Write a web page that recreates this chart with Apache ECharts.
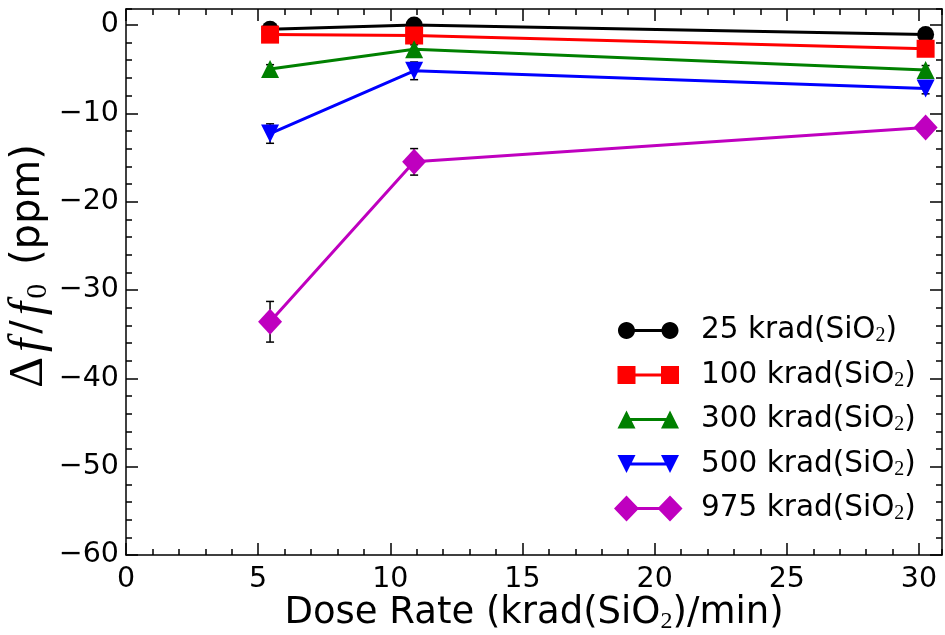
<!DOCTYPE html>
<html>
<head>
<meta charset="utf-8">
<script src="https://cdn.jsdelivr.net/npm/echarts@6/dist/echarts.min.js"></script>
<style>
  html, body { margin: 0; padding: 0; background: #ffffff; }
  #chart { width: 945px; height: 635px; }
</style>
</head>
<body>
<div id="chart"></div>
<script>
// Dose rates (krad(SiO2)/min) at which the resonators were irradiated
const doseRate = [5.45, 10.9, 30.25];

// Total dose levels, one curve each
const doseLevels = ['25', '100', '300', '500', '975'];

// Relative frequency shift Δf/f0 (ppm) per total dose
const shift25  = [-0.5, 0.0, -1.1];
const shift100 = [-1.1, -1.2, -2.7];
const shift300 = [-5.0, -2.75, -5.1];
const shift500 = [-12.3, -5.2, -7.2];
const shift975 = [-33.6, -15.5, -11.6];

// Half-width of the error bars (ppm)
const err25  = [0.3, 0.3, 0.3];
const err100 = [0.3, 0.3, 0.3];
const err300 = [0.5, 0.5, 0.5];
const err500 = [1.1, 1.0, 0.6];
const err975 = [2.3, 1.5, 0.6];

// Labelled ticks
const xTickValues = [0, 5, 10, 15, 20, 25, 30];
const yTickValues = [-60, -50, -40, -30, -20, -10, 0];

const shifts = [shift25, shift100, shift300, shift500, shift975];
const errs = [err25, err100, err300, err500, err975];
const colors = ['#000000', '#ff0000', '#008000', '#0000ff', '#bf00bf'];
const symbols = ['circle', 'rect', 'triangle', 'triangle', 'diamond'];
const symbolSizes = [17, 18, 18, 18, [24, 26]];
const symbolRotates = [0, 0, 0, 180, 0];

const X_MIN = 0, X_MAX = 30.87, Y_MIN = -60, Y_MAX = 1.8;
const FONT = 'DejaVu Sans';
const MATH = 'Liberation Serif';

// Legend glyphs: two markers joined by a short line segment
function circ(cx, cy, r) {
  const k = r * 0.5523;
  return `M${cx - r},${cy} C${cx - r},${cy - k} ${cx - k},${cy - r} ${cx},${cy - r} ` +
         `C${cx + k},${cy - r} ${cx + r},${cy - k} ${cx + r},${cy} ` +
         `C${cx + r},${cy + k} ${cx + k},${cy + r} ${cx},${cy + r} ` +
         `C${cx - k},${cy + r} ${cx - r},${cy + k} ${cx - r},${cy} Z `;
}
function sq(cx, cy, h) {
  return `M${cx - h},${cy - h} L${cx + h},${cy - h} L${cx + h},${cy + h} L${cx - h},${cy + h} Z `;
}
function triUp(cx, cy, h) {
  return `M${cx},${cy - h} L${cx + h},${cy + h} L${cx - h},${cy + h} Z `;
}
function triDown(cx, cy, h) {
  return `M${cx - h},${cy - h} L${cx + h},${cy - h} L${cx},${cy + h} Z `;
}
function dia(cx, cy, w, h) {
  return `M${cx},${cy - h} L${cx + w},${cy} L${cx},${cy + h} L${cx - w},${cy} Z `;
}
const IW = 82, IH = 26, L = 12.5, R = 56, C = 13;
const bar = `M${L},${C - 1.5} L${R},${C - 1.5} L${R},${C + 1.5} L${L},${C + 1.5} Z `;
const frameBox = `M0,0 M${IW},${IH}`;
const legendIcons = [
  circ(L, C, 8.5) + circ(R, C, 8.5),
  sq(L, C, 9) + sq(R, C, 9),
  triUp(L, C, 9) + triUp(R, C, 9),
  triDown(L, C, 9) + triDown(R, C, 9),
  dia(L, C, 12.5, 13) + dia(R, C, 12.5, 13)
].map(p => 'path://' + frameBox + ' ' + bar + p);

const seriesNames = doseLevels.map(d => d + ' krad(SiO2)');

const lineSeries = doseLevels.map((d, i) => ({
  type: 'line',
  name: seriesNames[i],
  data: doseRate.map((x, j) => [x, shifts[i][j]]),
  symbol: symbols[i],
  symbolSize: symbolSizes[i],
  symbolRotate: symbolRotates[i],
  showSymbol: true,
  lineStyle: { width: 3, color: colors[i] },
  itemStyle: { color: colors[i], borderWidth: 0 },
  emphasis: { disabled: true },
  z: 3,
  animation: false
}));

const errorSeries = {
  type: 'custom',
  name: 'error',
  silent: true,
  z: 1,
  animation: false,
  data: shifts.flatMap((s, i) => doseRate.map((x, j) => [x, s[j], errs[i][j]])),
  renderItem: function (params, api) {
    const x = api.value(0), y = api.value(1), e = api.value(2);
    const top = api.coord([x, y + e]);
    const bot = api.coord([x, y - e]);
    const cap = 4;
    const st = { stroke: '#000000', lineWidth: 1.5 };
    return {
      type: 'group',
      children: [
        { type: 'line', shape: { x1: top[0], y1: top[1], x2: bot[0], y2: bot[1] }, style: st },
        { type: 'line', shape: { x1: top[0] - cap, y1: top[1], x2: top[0] + cap, y2: top[1] }, style: st },
        { type: 'line', shape: { x1: bot[0] - cap, y1: bot[1], x2: bot[0] + cap, y2: bot[1] }, style: st }
      ]
    };
  }
};

const axisLineStyle = { color: '#000000', width: 1.5 };
const tickLabelStyle = {
  fontFamily: FONT, fontSize: 28.5, color: '#000000',
  formatter: v => (v < 0 ? '\u2212' + Math.abs(v) : String(v))
};

function majorAxis(pos, min, max, ticks, withLabels, margin) {
  return {
    type: 'value', position: pos, min: min, max: max,
    axisLine: { show: true, onZero: false, lineStyle: axisLineStyle },
    axisTick: { show: true, inside: true, length: 12, lineStyle: axisLineStyle, customValues: ticks },
    axisLabel: withLabels
      ? Object.assign({ show: true, margin: margin, customValues: ticks }, tickLabelStyle)
      : { show: false },
    splitLine: { show: false }
  };
}
function minorAxis(pos, min, max, step) {
  return {
    type: 'value', position: pos, min: min, max: max, interval: step,
    axisLine: { show: false, onZero: false },
    axisTick: { show: true, inside: true, length: 6, lineStyle: axisLineStyle },
    axisLabel: { show: false },
    splitLine: { show: false }
  };
}

const xMain = majorAxis('bottom', X_MIN, X_MAX, xTickValues, true, 10);
xMain.name = 'Dose Rate (krad(SiO{s|2})/min)';
xMain.nameLocation = 'middle';
xMain.nameGap = 37;
xMain.nameMoveOverlap = false;
xMain.nameTextStyle = {
  fontFamily: FONT, fontSize: 37, color: '#000000', lineHeight: 42,
  rich: { s: { fontFamily: MATH, fontSize: 24, lineHeight: 27, verticalAlign: 'bottom', color: '#000000' } }
};

const option = {
  backgroundColor: '#ffffff',
  animation: false,
  textStyle: { fontFamily: FONT },
  grid: { left: 126, right: 3, top: 9, bottom: 80, containLabel: false, outerBoundsMode: 'none' },
  xAxis: [
    xMain,
    majorAxis('top', X_MIN, X_MAX, xTickValues, false),
    minorAxis('bottom', X_MIN, X_MAX, 1),
    minorAxis('top', X_MIN, X_MAX, 1)
  ],
  yAxis: [
    majorAxis('left', Y_MIN, Y_MAX, yTickValues, true, 7),
    majorAxis('right', Y_MIN, Y_MAX, yTickValues, false),
    minorAxis('left', Y_MIN, Y_MAX, 2),
    minorAxis('right', Y_MIN, Y_MAX, 2)
  ],
  legend: {
    orient: 'vertical',
    left: 614,
    top: 315,
    padding: 0,
    itemWidth: IW,
    itemHeight: IH,
    itemGap: 13.5,
    selectedMode: false,
    itemStyle: { borderWidth: 0 },
    data: seriesNames.map((n, i) => ({ name: n, icon: legendIcons[i] })),
    formatter: n => n.replace('SiO2', 'SiO{s|2}'),
    textStyle: {
      fontFamily: FONT, fontSize: 29.5, color: '#000000', lineHeight: 31,
      rich: { s: { fontFamily: MATH, fontSize: 20, lineHeight: 21, verticalAlign: 'bottom', color: '#000000' } }
    }
  },
  graphic: [{
    type: 'text',
    x: 29,
    y: 266,
    rotation: Math.PI / 2,
    silent: true,
    style: {
      text: '{m|\u0394}{i|f}{sl|/}{i|f}{s|0} (ppm)',
      fontFamily: FONT,
      fontSize: 40,
      fill: '#000000',
      align: 'center',
      verticalAlign: 'middle',
      rich: {
        m: { fontFamily: MATH, fontSize: 48, fill: '#000000', padding: [0, 2, 0, 0] },
        i: { fontFamily: MATH, fontStyle: 'italic', fontSize: 48, fill: '#000000', padding: [0, 3, 0, 3] },
        sl: { fontFamily: FONT, fontSize: 40, fill: '#000000', padding: [0, 2, 0, 2] },
        s: { fontFamily: MATH, fontSize: 30, fill: '#000000', verticalAlign: 'bottom', lineHeight: 34, padding: [0, 6, 0, 0] }
      }
    }
  }],
  series: [errorSeries].concat(lineSeries)
};

const chart = echarts.init(document.getElementById('chart'), null, { renderer: 'canvas' });
chart.setOption(option);
</script>
</body>
</html>
